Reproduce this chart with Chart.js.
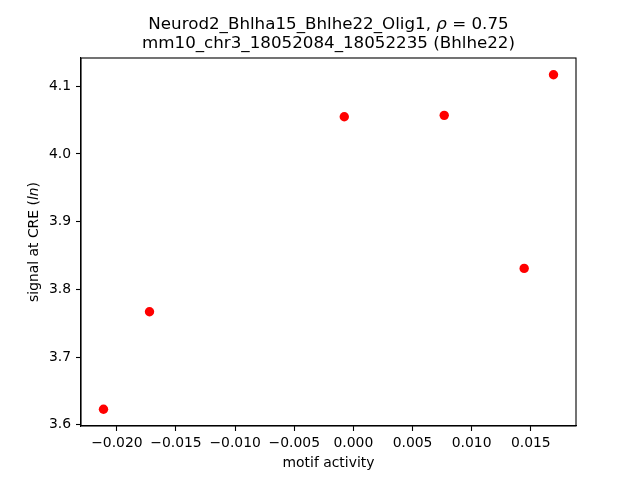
<!DOCTYPE html>
<html>
<head>
<meta charset="utf-8">
<script src="https://cdn.jsdelivr.net/npm/chart.js@4"></script>
<style>
  html, body { margin: 0; padding: 0; background: #fff; }
  #wrap { width: 640px; height: 480px; position: relative; }
</style>
</head>
<body>
<div id="wrap"><canvas id="c"></canvas></div>
<script>
// ---- data ----
const motifActivity = [-0.02113, -0.01724, -0.00077, 0.00768, 0.01444, 0.01692];
const creSignal     = [3.623, 3.767, 4.055, 4.057, 3.831, 4.117];
const xTickValues   = [-0.020, -0.015, -0.010, -0.005, 0.000, 0.005, 0.010, 0.015];
const yTickValues   = [3.6, 3.7, 3.8, 3.9, 4.0, 4.1];
const titleLine1    = ["Neurod2_Bhlha15_Bhlhe22_Olig1, ", "\u03C1", " = 0.75"];
const titleLine2    = "mm10_chr3_18052084_18052235 (Bhlhe22)";
const xLabel        = "motif activity";
const yLabelParts   = ["signal at CRE (", "ln", ")"];

// matplotlib-like 5% margins
function lims(arr) {
  const mn = Math.min(...arr), mx = Math.max(...arr), m = (mx - mn) * 0.05;
  return [mn - m, mx + m];
}
const [xMin, xMax] = lims(motifActivity);
const [yMin, yMax] = lims(creSignal);

const FONT = "'DejaVu Sans', sans-serif";
const points = motifActivity.map((x, i) => ({ x: x, y: creSignal[i] }));

function drawParts(ctx, parts, fonts, x, y) {
  // centered at x
  let total = 0;
  const widths = parts.map((p, i) => { ctx.font = fonts[i]; const w = ctx.measureText(p).width; total += w; return w; });
  let cx = x - total / 2;
  parts.forEach((p, i) => { ctx.font = fonts[i]; ctx.fillText(p, cx, y); cx += widths[i]; });
}

const decor = {
  id: 'decor',
  afterDraw(chart) {
    const ctx = chart.ctx, a = chart.chartArea;
    ctx.save();
    ctx.strokeStyle = '#000';
    ctx.lineWidth = 1.1;
    ctx.strokeRect(a.left, a.top, a.right - a.left, a.bottom - a.top);
    ctx.fillStyle = '#000';
    ctx.textBaseline = 'alphabetic';
    ctx.textAlign = 'left';
    const cx = (a.left + a.right) / 2;
    const tf = "16.7px " + FONT, tfi = "italic 16.7px " + FONT;
    drawParts(ctx, titleLine1, [tf, tfi, tf], cx, 28.5);
    drawParts(ctx, [titleLine2], [tf], cx, 47.5);
    // x label
    const lf = "13.9px " + FONT, lfi = "italic 13.9px " + FONT;
    drawParts(ctx, [xLabel], [lf], cx, 466.5);
    // y label rotated
    ctx.translate(38, (a.top + a.bottom) / 2);
    ctx.rotate(-Math.PI / 2);
    drawParts(ctx, yLabelParts, [lf, lfi, lf], 0, 0);
    ctx.restore();
  }
};

new Chart(document.getElementById('c'), {
  type: 'scatter',
  data: {
    datasets: [{
      data: points,
      backgroundColor: '#ff0000',
      borderColor: '#ff0000',
      borderWidth: 0,
      pointRadius: 4.7,
      pointHoverRadius: 4.7
    }]
  },
  options: {
    responsive: true,
    maintainAspectRatio: false,
    animation: false,
    events: [],
    layout: { padding: { left: 0, right: 64, top: 58, bottom: 0 } },
    plugins: { legend: { display: false }, title: { display: false }, tooltip: { enabled: false } },
    scales: {
      x: {
        type: 'linear',
        min: xMin, max: xMax,
        afterBuildTicks: s => { s.ticks = xTickValues.map(v => ({ value: v })); },
        afterFit: s => { s.height = 54; },
        grid: { drawOnChartArea: false, drawTicks: true, tickLength: 5, color: '#000', tickWidth: 1.1 },
        border: { display: true, color: '#000', width: 1.1 },
        ticks: {
          color: '#000', padding: 4, maxRotation: 0, autoSkip: false,
          font: { family: FONT, size: 13.9 },
          callback: v => v.toFixed(3).replace('-', '\u2212')
        }
      },
      y: {
        type: 'linear',
        min: yMin, max: yMax,
        afterBuildTicks: s => { s.ticks = yTickValues.map(v => ({ value: v })); },
        afterFit: s => { s.width = 81; },
        grid: { drawOnChartArea: false, drawTicks: true, tickLength: 5, color: '#000', tickWidth: 1.1 },
        border: { display: true, color: '#000', width: 1.1 },
        ticks: {
          color: '#000', padding: 5, autoSkip: false,
          font: { family: FONT, size: 13.9 },
          callback: v => v.toFixed(1)
        }
      }
    }
  },
  plugins: [decor]
});
</script>
</body>
</html>
